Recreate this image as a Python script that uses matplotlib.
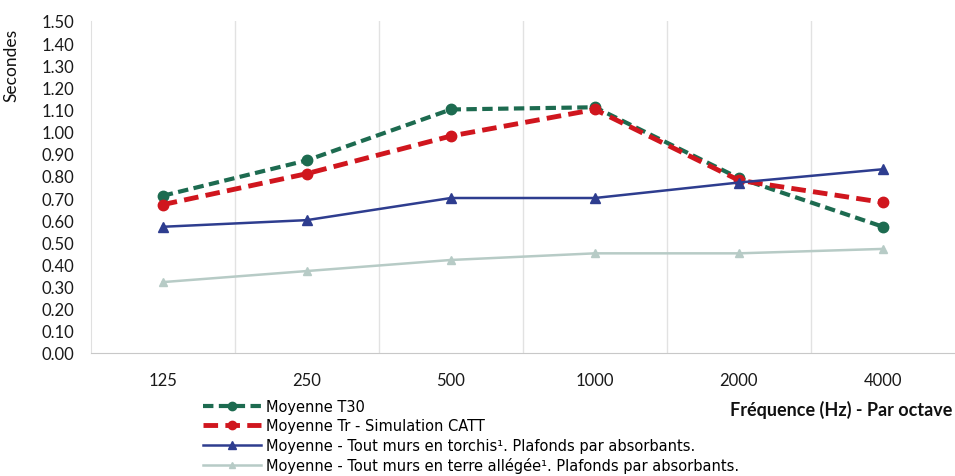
import matplotlib
matplotlib.use('Agg')
import matplotlib.pyplot as plt

frequencies = ["125", "250", "500", "1000", "2000", "4000"]
t30 = [0.71, 0.87, 1.10, 1.11, 0.79, 0.57]
tr_catt = [0.67, 0.81, 0.98, 1.10, 0.78, 0.68]
torchis = [0.57, 0.60, 0.70, 0.70, 0.77, 0.83]
terre_allegee = [0.32, 0.37, 0.42, 0.45, 0.45, 0.47]
y_ticks = [i / 10 for i in range(16)]

labels = [
    "Moyenne T30",
    "Moyenne Tr - Simulation CATT",
    "Moyenne - Tout murs en torchis¹. Plafonds par absorbants.",
    "Moyenne - Tout murs en terre allégée¹. Plafonds par absorbants.",
]

plt.rcParams['font.family'] = ['Lato', 'DejaVu Sans']

fig = plt.figure(figsize=(9.55, 4.77), dpi=100)
ax = fig.add_axes([0.095, 0.258, 0.905, 0.696])

x = list(range(len(frequencies)))
ax.plot(x, t30, color='#1d6b50', linestyle=(0, (2.5, 1.3)), linewidth=3, marker='o', markersize=7.5, label=labels[0])
ax.plot(x, tr_catt, color='#d0161e', linestyle=(0, (3, 1.5)), linewidth=3.5, marker='o', markersize=7.5, label=labels[1])
ax.plot(x, torchis, color='#2e3d8f', linewidth=1.8, marker='^', markersize=7, label=labels[2])
ax.plot(x, terre_allegee, color='#b7cbc6', linewidth=1.8, marker='^', markersize=6, label=labels[3])

ax.set_xlim(-0.5, len(frequencies) - 0.5)
ax.set_ylim(0, 1.5)
ax.set_xticks(x)
ax.set_xticklabels(frequencies)
ax.set_yticks(y_ticks)
ax.set_yticklabels([f"{v:.2f}" for v in y_ticks])
ax.tick_params(axis='both', length=0, labelsize=12, colors='#1a1a1a')
ax.tick_params(axis='x', pad=14)
ax.tick_params(axis='y', pad=12)

# séparateurs verticaux entre catégories
ax.set_xticks([i + 0.5 for i in range(len(frequencies) - 1)], minor=True)
ax.grid(True, which='minor', axis='x', color='#e2e2e2', linewidth=1)
ax.tick_params(which='minor', length=0)

for side in ['top', 'right']:
    ax.spines[side].set_visible(False)
ax.spines['left'].set_color('#e0e0e0')
ax.spines['bottom'].set_color('#c8c8c8')

ax.set_ylabel("Secondes", fontsize=12.5, labelpad=2, color='#111111')
ax.yaxis.set_label_coords(-0.083, 0.87)

fig.text(0.997, 1 - 410 / 477, "Fréquence (Hz) - Par octave", ha='right', va='center',
         fontsize=13, fontweight='bold', color='#111111')

leg = fig.legend(loc='upper left', bbox_to_anchor=(203 / 955, 1 - 400 / 477), frameon=False,
                 handlelength=4, labelspacing=0.3, handletextpad=0.3, borderaxespad=0,
                 borderpad=0, markerscale=0.8,
                 prop={'family': ['Liberation Sans Narrow', 'DejaVu Sans'], 'size': 10.5})
for h in leg.legend_handles:
    h.set_markevery([1])

fig.savefig("out.png", dpi=100)
